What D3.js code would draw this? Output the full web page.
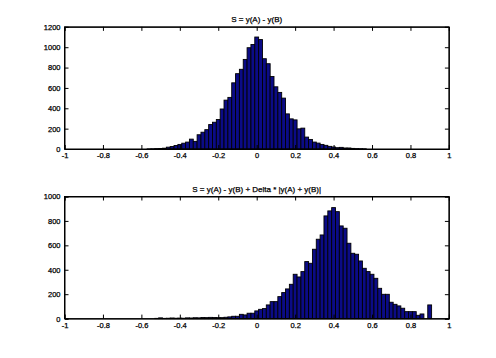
<!DOCTYPE html>
<html><head><meta charset="utf-8">
<script src="https://cdn.jsdelivr.net/npm/d3@7"></script>
<style>
html,body{margin:0;padding:0;background:#fff;}
svg{display:block;}
text{font-family:Arial,"Liberation Sans",sans-serif;fill:#000;stroke:#000;stroke-width:0.25px;}
</style></head>
<body>
<script>
// ---- data ----
const title1 = "S = y(A) - y(B)";
const title2 = "S = y(A) - y(B) + Delta * |y(A) + y(B)|";
const binWidth = 0.02;
const centers1 = [-0.56,-0.54,-0.52,-0.50,-0.48,-0.46,-0.44,-0.42,-0.40,-0.38,-0.36,-0.34,-0.32,-0.30,-0.28,-0.26,-0.24,-0.22,-0.20,-0.18,-0.16,-0.14,-0.12,-0.10,-0.08,-0.06,-0.04,-0.02,0,0.02,0.04,0.06,0.08,0.10,0.12,0.14,0.16,0.18,0.20,0.22,0.24,0.26,0.28,0.30,0.32,0.34,0.36,0.38,0.40,0.42,0.44,0.46,0.48,0.50,0.52,0.54,0.56];
const counts1 = [1,2,4,5,8,18,24,34,45,57,68,97,75,140,165,190,240,263,290,393,480,507,650,740,783,880,995,1027,1100,1075,887,838,712,611,556,500,345,296,286,198,205,117,94,68,58,45,36,26,20,13,16,10,10,6,4,3,2];
const centers2 = [-0.52,-0.50,-0.48,-0.46,-0.44,-0.42,-0.40,-0.38,-0.36,-0.34,-0.32,-0.30,-0.28,-0.26,-0.24,-0.22,-0.20,-0.18,-0.16,-0.14,-0.12,-0.10,-0.08,-0.06,-0.04,-0.02,0,0.02,0.04,0.06,0.08,0.10,0.12,0.14,0.16,0.18,0.20,0.22,0.24,0.26,0.28,0.30,0.32,0.34,0.36,0.38,0.40,0.42,0.44,0.46,0.48,0.50,0.52,0.54,0.56,0.58,0.60,0.62,0.64,0.66,0.68,0.70,0.72,0.74,0.76,0.78,0.80,0.82,0.84,0.86,0.88,0.90];
const counts2 = [2,6,2,3,5,3,4,3,6,5,7,6,9,8,10,9,8,8,11,14,19,19,35,30,44,44,63,76,82,112,139,139,180,213,243,281,363,341,385,467,453,568,650,685,841,882,909,876,759,740,617,535,527,472,412,385,363,330,248,199,199,134,117,104,85,57,57,57,27,38,0,112];
const xTicks = [-1,-0.8,-0.6,-0.4,-0.2,0,0.2,0.4,0.6,0.8,1];
const xTickLabels = ["-1","-0.8","-0.6","-0.4","-0.2","0","0.2","0.4","0.6","0.8","1"];
const yTicks1 = [0,200,400,600,800,1000,1200];
const yTicks2 = [0,200,400,600,800,1000];

const W = 496, H = 358;
const svg = d3.select("body").append("svg").attr("width", W).attr("height", H);

const panels = [
  {title: title1, centers: centers1, counts: counts1, yTicks: yTicks1, yMax: 1200, top: 26.85, bottom: 149},
  {title: title2, centers: centers2, counts: counts2, yTicks: yTicks2, yMax: 1000, top: 196.5, bottom: 318.6}
];
const left = 64.5, right = 448.9, tickLen = 4;

panels.forEach(p => {
  const x = d3.scaleLinear().domain([-1, 1]).range([left, right]);
  const y = d3.scaleLinear().domain([0, p.yMax]).range([p.bottom, p.top]);
  const g = svg.append("g");
  const data = p.centers.map((c, i) => ({c, v: p.counts[i]}));
  g.selectAll("rect").data(data.filter(d => d.v > 0)).join("rect")
    .attr("x", d => x(d.c - binWidth / 2))
    .attr("width", d => x(d.c + binWidth / 2) - x(d.c - binWidth / 2))
    .attr("y", d => y(d.v))
    .attr("height", d => y(0) - y(d.v))
    .attr("fill", "#0b0b86").attr("stroke", "#000").attr("stroke-width", 0.9);

  const xb = d3.axisBottom(x).tickValues(xTicks).tickSize(-tickLen).tickPadding(4)
    .tickFormat((d, i) => xTickLabels[i]);
  g.append("g").attr("transform", `translate(0,${p.bottom})`).call(xb);
  const xt = d3.axisTop(x).tickValues(xTicks).tickSize(-tickLen).tickFormat("");
  g.append("g").attr("transform", `translate(0,${p.top})`).call(xt);
  const yl = d3.axisLeft(y).tickValues(p.yTicks).tickSize(-tickLen).tickPadding(4).tickFormat(d3.format("d"));
  g.append("g").attr("transform", `translate(${left},0)`).call(yl);
  const yr = d3.axisRight(y).tickValues(p.yTicks).tickSize(-tickLen).tickFormat("");
  g.append("g").attr("transform", `translate(${right},0)`).call(yr);
  g.selectAll(".domain").attr("stroke", "#000").attr("stroke-width", 1);
  g.selectAll(".tick line").attr("stroke", "#000");
  g.selectAll(".tick text").attr("font-size", "7.5px").attr("font-family", "Arial, 'Liberation Sans', sans-serif");
  g.append("rect").attr("x", left).attr("y", p.top).attr("width", right - left).attr("height", p.bottom - p.top)
    .attr("fill", "none").attr("stroke", "#000").attr("stroke-width", 1);
  g.append("text").attr("x", (left + right) / 2).attr("y", p.top - 5)
    .attr("text-anchor", "middle").attr("font-size", "8px").text(p.title);
});
</script>
</body></html>
